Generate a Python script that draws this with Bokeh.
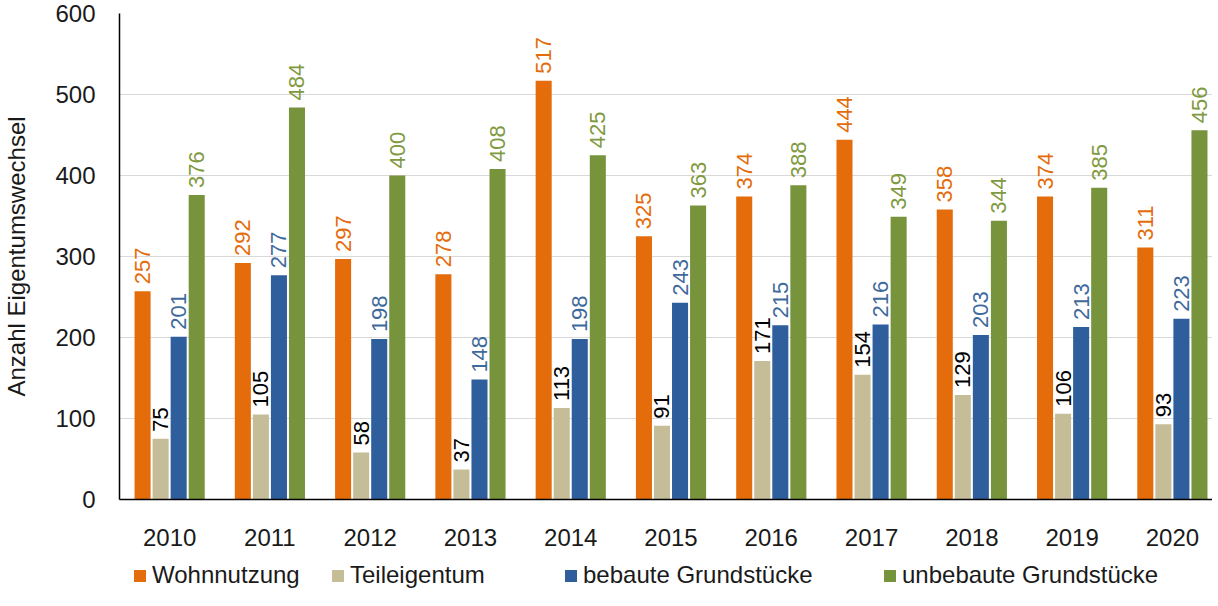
import math
from bokeh.plotting import figure
from bokeh.layouts import column
from bokeh.models import ColumnDataSource, Range1d, FixedTicker, Legend, LegendItem
from bokeh.transform import dodge
from bokeh.embed import file_html
from bokeh.resources import INLINE
from bokeh.core.properties import value

years = ["2010", "2011", "2012", "2013", "2014", "2015", "2016", "2017", "2018", "2019", "2020"]
wohnnutzung = [257, 292, 297, 278, 517, 325, 374, 444, 358, 374, 311]
teileigentum = [75, 105, 58, 37, 113, 91, 171, 154, 129, 106, 93]
bebaute = [201, 277, 198, 148, 198, 243, 215, 216, 203, 213, 223]
unbebaute = [376, 484, 400, 408, 425, 363, 388, 349, 344, 385, 456]

series = [
    ("Wohnnutzung", wohnnutzung, "#E46C0A", "#E46C0A", -0.27),
    ("Teileigentum", teileigentum, "#C4BD97", "#000000", -0.09),
    ("bebaute Grundstücke", bebaute, "#2F5E9C", "#3F6A9C", 0.09),
    ("unbebaute Grundstücke", unbebaute, "#77933C", "#7F9A40", 0.27),
]
legend_x = [13, 211, 444, 763]

idx = list(range(len(years)))
data = {"x": idx}
for i, (name, vals, _, _, _) in enumerate(series):
    data[f"v{i}"] = vals
    data[f"l{i}"] = [str(v) for v in vals]
src = ColumnDataSource(data)

FONT = "Liberation Sans"

p = figure(frame_width=1093, frame_height=486,
           x_range=Range1d(-0.5, 10.4), y_range=Range1d(0, 600),
           output_backend="svg", toolbar_location=None,
           min_border_left=109, min_border_top=13, min_border_right=0, min_border_bottom=56)

for i, (name, vals, bcol, lcol, off) in enumerate(series):
    p.vbar(x=dodge("x", off), top=f"v{i}", width=0.16, bottom=0, source=src,
           fill_color=bcol, line_color=None)
    p.text(x=dodge("x", off), y=f"v{i}", text=f"l{i}", source=src,
           angle=math.pi / 2, text_align="left", text_baseline="middle",
           y_offset=-7, text_font=value(FONT), text_font_size="22px",
           text_color=lcol)

p.outline_line_color = None
p.xgrid.grid_line_color = None
p.ygrid.grid_line_color = "#D9D9D9"
p.ygrid.grid_line_width = 1

p.yaxis.ticker = FixedTicker(ticks=[0, 100, 200, 300, 400, 500, 600])
p.xaxis.ticker = FixedTicker(ticks=idx)
p.xaxis.major_label_overrides = {i: y for i, y in enumerate(years)}

for ax in (p.xaxis, p.yaxis):
    ax.axis_line_color = "#000000"
    ax.axis_line_width = 1.5
    ax.major_tick_line_color = None
    ax.minor_tick_line_color = None
    ax.major_label_text_font = FONT
    ax.major_label_text_font_size = "24px"
    ax.major_label_text_color = "#1a1a1a"
    ax.major_label_standoff = 18
p.xaxis.major_label_standoff = 23

p.yaxis.axis_label = "Anzahl Eigentumswechsel"
p.yaxis.axis_label_text_font = FONT
p.yaxis.axis_label_text_font_size = "24px"
p.yaxis.axis_label_text_font_style = "normal"
p.yaxis.axis_label_text_color = "#1a1a1a"
p.yaxis.axis_label_standoff = 22

# legend strip (bars are outside its y-range, only the legend shows)
lf = figure(width=1202, height=34, x_range=Range1d(-0.5, 10.4), y_range=Range1d(1000, 1001),
            x_axis_type=None, y_axis_type=None, output_backend="svg",
            toolbar_location=None, min_border=0, outline_line_color=None)
for i, (name, vals, bcol, lcol, off) in enumerate(series):
    r = lf.vbar(x=dodge("x", off), top=f"v{i}", width=0.16, bottom=0, source=src,
                fill_color=bcol, line_color=None)
    lg = Legend(items=[LegendItem(label=name, renderers=[r])],
                location=(legend_x[i], 0), orientation="horizontal",
                border_line_color=None, background_fill_alpha=0,
                label_text_font=FONT, label_text_font_size="24px",
                label_text_color="#1a1a1a", label_height=28,
                glyph_width=15, glyph_height=15, label_standoff=5,
                padding=0, margin=0)
    lf.add_layout(lg, "center")

layout = column(p, lf, spacing=0)
open("out.html", "w").write(file_html(layout, INLINE))
